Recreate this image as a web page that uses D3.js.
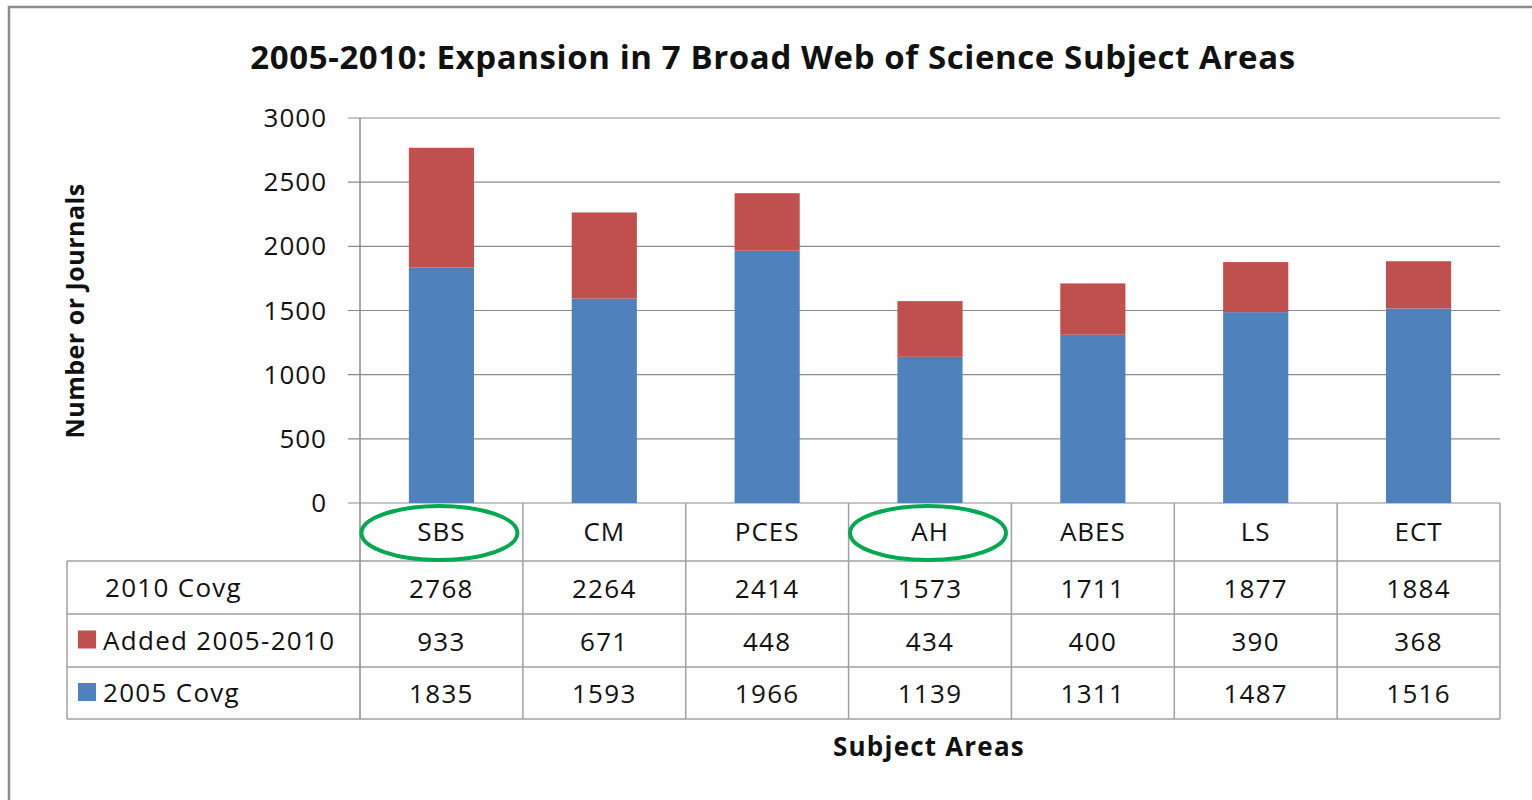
<!DOCTYPE html>
<html>
<head>
<meta charset="utf-8">
<script src="https://cdn.jsdelivr.net/npm/d3@7"></script>
<style>
  body { margin: 0; background: #fff; }
  text { font-family: "Open Sans", Lato, sans-serif; fill: #111; }
</style>
</head>
<body>
<div id="chart"></div>
<script>
// data
var categories = ["SBS", "CM", "PCES", "AH", "ABES", "LS", "ECT"];
var covg2010 = [2768, 2264, 2414, 1573, 1711, 1877, 1884];
var added = [933, 671, 448, 434, 400, 390, 368];
var covg2005 = [1835, 1593, 1966, 1139, 1311, 1487, 1516];
var yTicks = [0, 500, 1000, 1500, 2000, 2500, 3000];
var circled = ["SBS", "AH"];

var width = 1532, height = 800;
var blue = "#4f81bd", red = "#c0504d", gridCol = "#8c8c8c", tableCol = "#a0a0a0";

var svg = d3.select("#chart")
    .append("svg")
    .attr("width", width)
    .attr("height", height);

// outer frame
svg.append("rect")
    .attr("x", 9).attr("y", 7)
    .attr("width", 1540).attr("height", 820)
    .attr("fill", "none")
    .attr("stroke", "#8c8c8c")
    .attr("stroke-width", 2.5);

var plotLeft = 360, plotRight = 1500, plotTop = 118, plotBottom = 503;

var x = d3.scaleBand()
    .domain(categories)
    .range([plotLeft, plotRight])
    .padding(0);

var y = d3.scaleLinear()
    .domain([0, 3000])
    .range([plotBottom, plotTop]);

// gridlines
svg.append("g")
    .selectAll("line")
    .data(yTicks)
    .enter()
    .append("line")
    .attr("x1", plotLeft - 12)
    .attr("x2", plotRight)
    .attr("y1", function (d) { return y(d); })
    .attr("y2", function (d) { return y(d); })
    .attr("stroke", gridCol)
    .attr("stroke-width", 1.2);

// y tick labels
svg.append("g")
    .selectAll("text")
    .data(yTicks)
    .enter()
    .append("text")
    .attr("x", plotLeft - 33)
    .attr("y", function (d) { return y(d) + 9; })
    .attr("text-anchor", "end")
    .style("font-size", "26px")
    .style("letter-spacing", "1px")
    .text(function (d) { return d; });

// stacked bars
var barW = x.bandwidth() * 0.4;
var bars = svg.append("g");
categories.forEach(function (c, i) {
    var bx = x(c) + (x.bandwidth() - barW) / 2;
    bars.append("rect")
        .attr("x", bx).attr("width", barW)
        .attr("y", y(covg2005[i]))
        .attr("height", y(0) - y(covg2005[i]))
        .attr("fill", blue);
    bars.append("rect")
        .attr("x", bx).attr("width", barW)
        .attr("y", y(covg2005[i] + added[i]))
        .attr("height", y(covg2005[i]) - y(covg2005[i] + added[i]))
        .attr("fill", red);
});

// data table
var rowY = [plotBottom, 561, 614, 667, 719];
var tableLeft = 67;
var t = svg.append("g");

// horizontal lines
rowY.forEach(function (ry, k) {
    if (k == 0) return;
    t.append("line")
        .attr("x1", tableLeft).attr("x2", plotRight)
        .attr("y1", ry).attr("y2", ry)
        .attr("stroke", tableCol).attr("stroke-width", 1.5);
});
// vertical lines
var colEdges = categories.map(function (c) { return x(c); }).concat([plotRight]);
colEdges.forEach(function (cx) {
    t.append("line")
        .attr("x1", cx).attr("x2", cx)
        .attr("y1", cx == plotLeft ? plotTop : plotBottom).attr("y2", rowY[4])
        .attr("stroke", cx == plotLeft ? gridCol : tableCol).attr("stroke-width", 1.5);
});
t.append("line")
    .attr("x1", tableLeft).attr("x2", tableLeft)
    .attr("y1", rowY[1]).attr("y2", rowY[4])
    .attr("stroke", tableCol).attr("stroke-width", 1.5);

// category header
t.selectAll("text.cat")
    .data(categories)
    .enter()
    .append("text")
    .attr("class", "cat")
    .attr("x", function (d) { return x(d) + x.bandwidth() / 2; })
    .attr("y", 541)
    .attr("text-anchor", "middle")
    .style("font-size", "26px")
    .style("letter-spacing", "1px")
    .text(function (d) { return d; });

// green ellipses round the highlighted categories
t.selectAll("ellipse")
    .data(circled)
    .enter()
    .append("ellipse")
    .attr("cx", function (d) { return x(d) + x.bandwidth() / 2 - 2; })
    .attr("cy", 533)
    .attr("rx", 78)
    .attr("ry", 27)
    .attr("fill", "none")
    .attr("stroke", "#00a84f")
    .attr("stroke-width", 4);

var rows = [
    { label: "2010 Covg", values: covg2010, color: null },
    { label: "Added 2005-2010", values: added, color: red },
    { label: "2005 Covg", values: covg2005, color: blue }
];

rows.forEach(function (r, k) {
    var mid = (rowY[k + 1] + rowY[k + 2]) / 2;
    if (r.color) {
        t.append("rect")
            .attr("x", 78).attr("y", mid - 10)
            .attr("width", 18).attr("height", 18)
            .attr("fill", r.color);
    }
    t.append("text")
        .attr("x", r.color ? 103 : 105)
        .attr("y", mid + 9)
        .style("font-size", "26px")
        .style("letter-spacing", "1.3px")
        .text(r.label);
    t.selectAll("text.v" + k)
        .data(r.values)
        .enter()
        .append("text")
        .attr("class", "v" + k)
        .attr("x", function (d, i) { return x(categories[i]) + x.bandwidth() / 2; })
        .attr("y", mid + 10)
        .attr("text-anchor", "middle")
        .style("font-size", "26px")
        .style("letter-spacing", "1.3px")
        .text(function (d) { return d; });
});

// titles
svg.append("text")
    .attr("x", 773).attr("y", 69)
    .attr("text-anchor", "middle")
    .style("font-size", "33px")
    .style("letter-spacing", "0.6px")
    .style("font-weight", "bold")
    .text("2005-2010: Expansion in 7 Broad Web of Science Subject Areas");

svg.append("text")
    .attr("transform", "translate(84,311) rotate(-90)")
    .attr("text-anchor", "middle")
    .style("font-size", "25px")
    .style("letter-spacing", "0.5px")
    .style("font-weight", "bold")
    .text("Number or Journals");

svg.append("text")
    .attr("x", 929).attr("y", 756)
    .attr("text-anchor", "middle")
    .style("font-size", "26px")
    .style("letter-spacing", "1.2px")
    .style("font-weight", "bold")
    .text("Subject Areas");
</script>
</body>
</html>
